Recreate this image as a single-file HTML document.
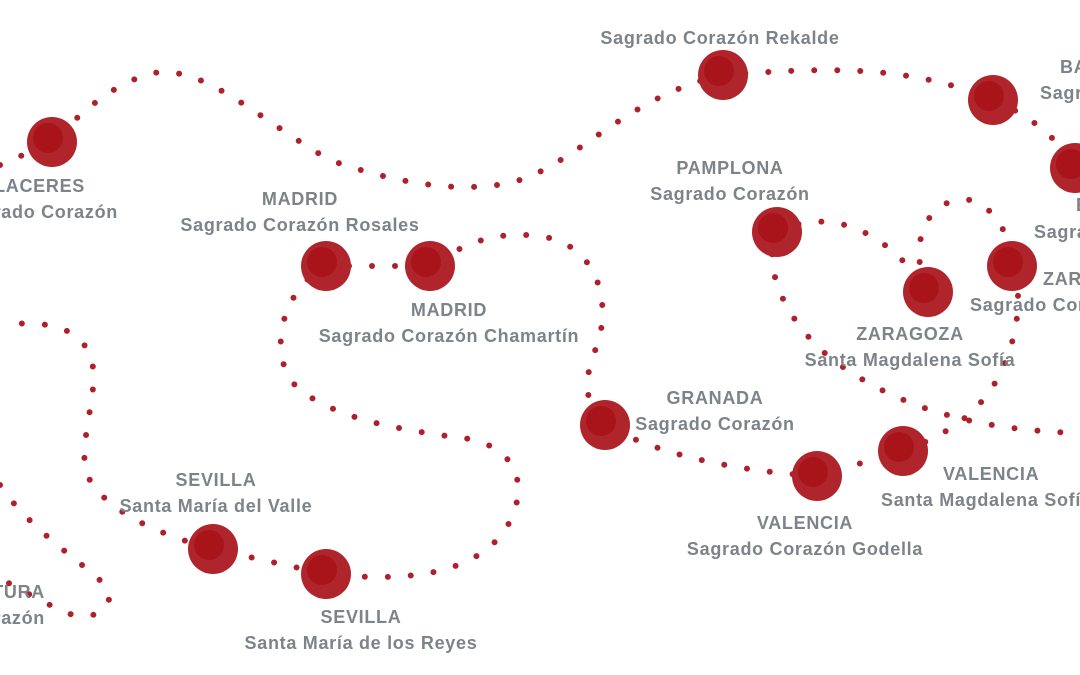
<!DOCTYPE html>
<html><head><meta charset="utf-8"><style>
html,body{margin:0;padding:0;background:#fff;width:1080px;height:675px;overflow:hidden}
svg{display:block}
text{font-family:"Liberation Sans",sans-serif;font-weight:bold;font-size:18px;letter-spacing:0.7px;fill:#7d8388}
.p{fill:none;stroke:#b0202a;stroke-width:6;stroke-linecap:round;stroke-dasharray:0 23}
</style></head><body>
<svg width="1080" height="675" viewBox="0 0 1080 675">
<g class="paths">
<path class="p" d="M0,165 C20,155 40,150 52,142 C70,125 110,80 160,72 C210,70 260,120 330,160 C400,185 470,195 520,180 C580,160 630,95 723,75 C800,70 900,60 993,100 C1030,115 1060,140 1075,168"/>
<path class="p" d="M326,266 L430,266 C470,240 500,230 545,237 C590,245 610,290 600,335 C590,370 575,390 605,425 C650,450 720,470 817,476 L903,451 C960,430 1000,400 1015,330 C1025,280 1010,210 970,200 C930,195 905,240 928,292"/>
<path class="p" d="M326,266 C280,290 265,360 300,390 C340,420 400,430 470,439 C520,450 530,490 505,530 C480,565 430,585 326,574 L213,549 C160,535 100,510 85,470 C80,420 110,370 80,340 C60,320 20,322 0,326"/>
<path class="p" d="M777,232 C820,210 880,220 928,292"/>
<path class="p" d="M777,232 C760,270 790,330 840,365 C890,400 960,430 1080,433"/>
<path class="p" d="M0,485 C30,530 80,560 105,585 C120,610 90,625 60,610 C40,600 20,590 0,578"/>
</g>
<g>
<g transform="translate(52,142)"><circle r="25" fill="#b0252c"/><circle cx="-4" cy="-4" r="15" fill="#a81419"/></g>
<g transform="translate(723,75)"><circle r="25" fill="#b0252c"/><circle cx="-4" cy="-4" r="15" fill="#a81419"/></g>
<g transform="translate(993,100)"><circle r="25" fill="#b0252c"/><circle cx="-4" cy="-4" r="15" fill="#a81419"/></g>
<g transform="translate(1075,168)"><circle r="25" fill="#b0252c"/><circle cx="-4" cy="-4" r="15" fill="#a81419"/></g>
<g transform="translate(326,266)"><circle r="25" fill="#b0252c"/><circle cx="-4" cy="-4" r="15" fill="#a81419"/></g>
<g transform="translate(430,266)"><circle r="25" fill="#b0252c"/><circle cx="-4" cy="-4" r="15" fill="#a81419"/></g>
<g transform="translate(777,232)"><circle r="25" fill="#b0252c"/><circle cx="-4" cy="-4" r="15" fill="#a81419"/></g>
<g transform="translate(928,292)"><circle r="25" fill="#b0252c"/><circle cx="-4" cy="-4" r="15" fill="#a81419"/></g>
<g transform="translate(1012,266)"><circle r="25" fill="#b0252c"/><circle cx="-4" cy="-4" r="15" fill="#a81419"/></g>
<g transform="translate(605,425)"><circle r="25" fill="#b0252c"/><circle cx="-4" cy="-4" r="15" fill="#a81419"/></g>
<g transform="translate(817,476)"><circle r="25" fill="#b0252c"/><circle cx="-4" cy="-4" r="15" fill="#a81419"/></g>
<g transform="translate(903,451)"><circle r="25" fill="#b0252c"/><circle cx="-4" cy="-4" r="15" fill="#a81419"/></g>
<g transform="translate(213,549)"><circle r="25" fill="#b0252c"/><circle cx="-4" cy="-4" r="15" fill="#a81419"/></g>
<g transform="translate(326,574)"><circle r="25" fill="#b0252c"/><circle cx="-4" cy="-4" r="15" fill="#a81419"/></g>
</g>
<g>
<text x="85" y="192" text-anchor="end">PLACERES</text>
<text x="118" y="218" text-anchor="end">Sagrado Corazón</text>
<text x="720" y="44" text-anchor="middle">Sagrado Corazón Rekalde</text>
<text x="1060" y="73">BARAKALDO</text>
<text x="1040" y="99">Sagrado Corazón</text>
<text x="1076" y="211">BILBAO</text>
<text x="1034" y="238">Sagrado Corazón</text>
<text x="1043" y="285">ZARAGOZA</text>
<text x="970" y="311">Sagrado Corazón</text>
<text x="300" y="205" text-anchor="middle">MADRID</text>
<text x="300" y="231" text-anchor="middle">Sagrado Corazón Rosales</text>
<text x="449" y="316" text-anchor="middle">MADRID</text>
<text x="449" y="342" text-anchor="middle">Sagrado Corazón Chamartín</text>
<text x="730" y="174" text-anchor="middle">PAMPLONA</text>
<text x="730" y="200" text-anchor="middle">Sagrado Corazón</text>
<text x="910" y="340" text-anchor="middle">ZARAGOZA</text>
<text x="910" y="366" text-anchor="middle">Santa Magdalena Sofía</text>
<text x="715" y="404" text-anchor="middle">GRANADA</text>
<text x="715" y="430" text-anchor="middle">Sagrado Corazón</text>
<text x="805" y="529" text-anchor="middle">VALENCIA</text>
<text x="805" y="555" text-anchor="middle">Sagrado Corazón Godella</text>
<text x="943" y="480">VALENCIA</text>
<text x="881" y="506">Santa Magdalena Sofía</text>
<text x="216" y="486" text-anchor="middle">SEVILLA</text>
<text x="216" y="512" text-anchor="middle">Santa María del Valle</text>
<text x="361" y="623" text-anchor="middle">SEVILLA</text>
<text x="361" y="649" text-anchor="middle">Santa María de los Reyes</text>
<text x="45" y="598" text-anchor="end">VENTURA</text>
<text x="45" y="624" text-anchor="end">Corazón</text>
</g>
</svg>
</body></html>
